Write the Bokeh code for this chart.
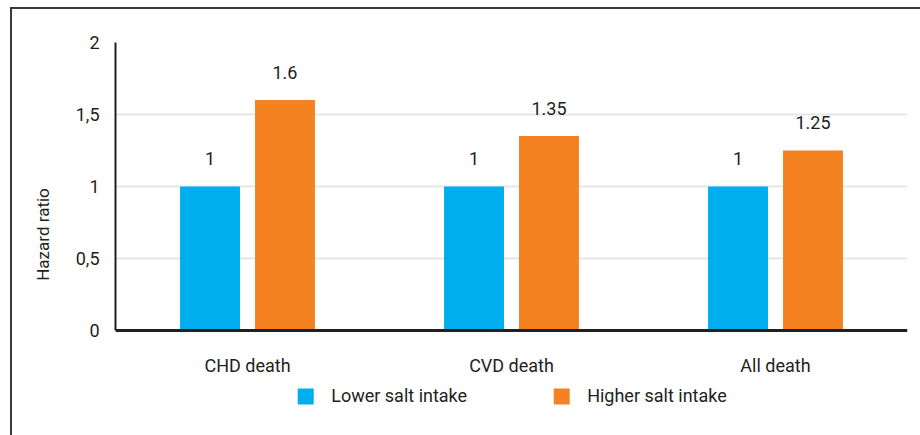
from bokeh.plotting import figure
from bokeh.models import (ColumnDataSource, FactorRange, Range1d, Legend, LegendItem,
                          FixedTicker, CustomJSTickFormatter)
from bokeh.transform import dodge
from bokeh.core.properties import value
from bokeh.embed import file_html
from bokeh.resources import INLINE

categories = ["CHD death", "CVD death", "All death"]
lower_salt = [1, 1, 1]
higher_salt = [1.6, 1.35, 1.25]
lower_labels = ["1", "1", "1"]
higher_labels = ["1.6", "1.35", "1.25"]
y_ticks = [0, 0.5, 1, 1.5, 2]

FONT = "Roboto"
INK = "#231f20"
BLUE = "#00aeef"
ORANGE = "#f58220"

src = ColumnDataSource(dict(cat=categories, low=lower_salt, high=higher_salt,
                            low_t=lower_labels, high_t=higher_labels))

# the frame reaches below zero so the category labels and the legend sit inside it
p = figure(frame_width=792, frame_height=384, x_range=FactorRange(*categories, range_padding=0),
           y_range=Range1d(-2 / 3, 2), output_backend="svg", toolbar_location=None,
           min_border_left=103, min_border_right=13, min_border_top=33, min_border_bottom=9)
p.outline_line_color = None
p.background_fill_color = "white"
p.border_fill_color = "white"
# thin box line around the chart (top and left edges show inside the window)
p.styles = {"border-top": "2px solid #3a3a3a", "border-left": "2px solid #3a3a3a",
            "margin-left": "10px", "margin-top": "7px"}

bw = 0.227
off = 0.142
r_low = p.vbar(x=dodge("cat", -off, range=p.x_range), top="low", width=bw, source=src,
               color=BLUE, line_color=None)
r_high = p.vbar(x=dodge("cat", off, range=p.x_range), top="high", width=bw, source=src,
                color=ORANGE, line_color=None)

for col, lab, d in (("low", "low_t", -off), ("high", "high_t", off)):
    p.text(x=dodge("cat", d, range=p.x_range), y=col, text=lab, source=src,
           text_align="center", text_baseline="middle", y_offset=-28,
           text_font=value(FONT), text_font_size="18px", text_color=INK)

p.xgrid.grid_line_color = None
p.ygrid.grid_line_color = "#e6e6e6"
p.ygrid.grid_line_width = 2
p.ygrid.ticker = FixedTicker(ticks=y_ticks)

p.yaxis.ticker = FixedTicker(ticks=y_ticks)
p.yaxis.bounds = (0, 2)
p.yaxis.formatter = CustomJSTickFormatter(code="return tick.toString().replace('.', ',')")
p.yaxis.axis_line_color = INK
p.yaxis.axis_line_width = 2
p.yaxis.major_tick_line_color = None
p.yaxis.minor_tick_line_color = None
p.yaxis.major_label_standoff = 10
p.yaxis.major_label_text_font = FONT
p.yaxis.major_label_text_font_size = "18px"
p.yaxis.major_label_text_color = INK
p.yaxis.axis_label = "Hazard ratio"
p.yaxis.axis_label_text_font = FONT
p.yaxis.axis_label_text_font_size = "17px"
p.yaxis.axis_label_text_font_style = "normal"
p.yaxis.axis_label_text_color = INK
p.yaxis.axis_label_standoff = 20

p.xaxis.fixed_location = 0
p.xaxis.axis_line_color = INK
p.xaxis.axis_line_width = 3
p.xaxis.major_tick_line_color = None
p.xaxis.minor_tick_line_color = None
p.xaxis.major_label_standoff = 18
p.xaxis.major_label_text_font = FONT
p.xaxis.major_label_text_font_size = "18px"
p.xaxis.major_label_text_color = INK

legend = Legend(items=[LegendItem(label="Lower salt intake", renderers=[r_low]),
                       LegendItem(label="Higher salt intake", renderers=[r_high])],
                orientation="horizontal", location="bottom_center", border_line_color=None,
                background_fill_alpha=0, glyph_width=20, glyph_height=20,
                label_standoff=16, spacing=84, padding=0, margin=20,
                label_text_font=FONT, label_text_font_size="18px", label_text_color=INK)
p.add_layout(legend, "center")

open("out.html", "w").write(file_html(p, INLINE))
